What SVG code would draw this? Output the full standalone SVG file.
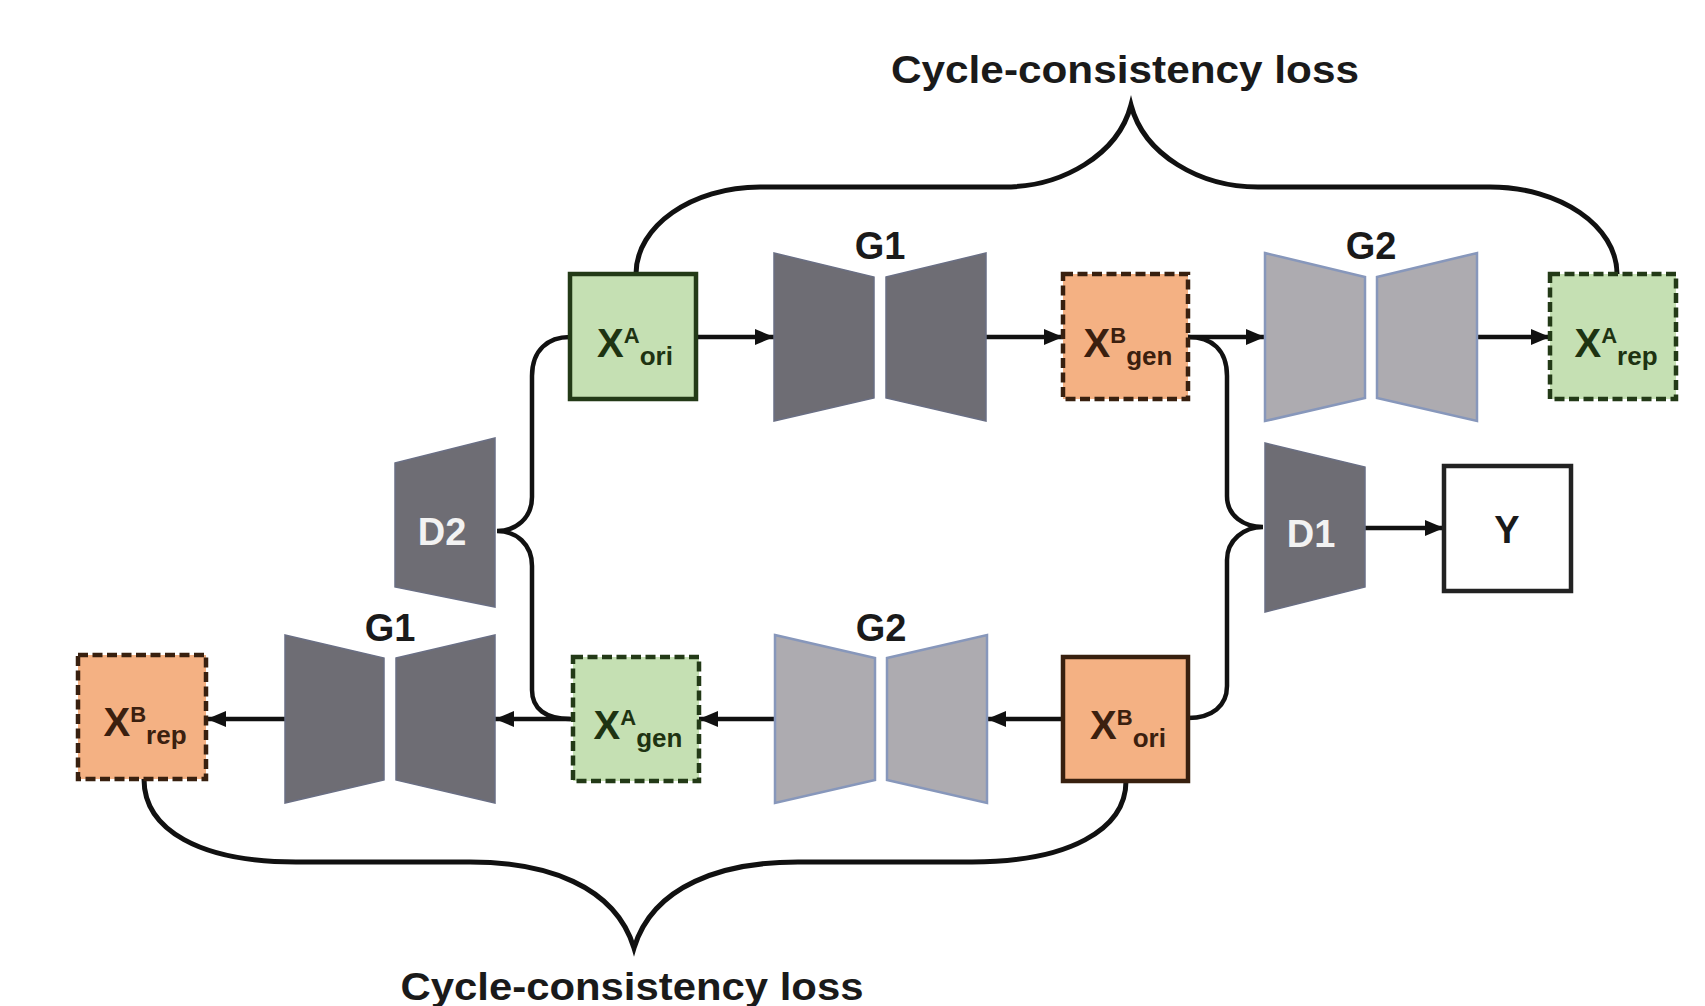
<svg xmlns="http://www.w3.org/2000/svg" width="1705" height="1006" viewBox="0 0 1705 1006">
<defs>
<marker id="arr" markerUnits="userSpaceOnUse" markerWidth="20" markerHeight="16" refX="19" refY="8" orient="auto">
<path d="M0,0 L19,8 L0,16 z" fill="#111"/>
</marker>
</defs>
<style>
.bg{fill:#ffffff}
.green{fill:#c5e0b3;stroke:#233a17;stroke-width:4.5}
.orange{fill:#f4b183;stroke:#38200f;stroke-width:4.5}
.dash{stroke-dasharray:10 4.5}
.white{fill:#ffffff;stroke:#222;stroke-width:4.5}
.dark{fill:#6e6d74;stroke:#6a6f84;stroke-width:1.5}
.light{fill:#adabb0;stroke:#8797bb;stroke-width:2.5}
.lbl{font-family:"Liberation Sans",Arial,sans-serif;font-weight:bold}
.big{font-size:38px;fill:#1a1a1a;text-anchor:middle}
.dtxt{font-size:38px;fill:#f2f2f2;text-anchor:middle}
.gt{fill:#1e3312}
.ot{fill:#3b200f}
.conn{fill:none;stroke:#111;stroke-width:4.5}
.brace{fill:none;stroke:#111;stroke-width:5}
</style>
<rect class="bg" x="0" y="0" width="1705" height="1006"/>

<g id="connectors">
<path class="conn" d="M696,337 L774,337" marker-end="url(#arr)"/>
<path class="conn" d="M986,337 L1063,337" marker-end="url(#arr)"/>
<path class="conn" d="M1188,337 L1265,337" marker-end="url(#arr)"/>
<path class="conn" d="M1477,337 L1550,337" marker-end="url(#arr)"/>
<path class="conn" d="M1063,719 L987,719" marker-end="url(#arr)"/>
<path class="conn" d="M775,719 L699,719" marker-end="url(#arr)"/>
<path class="conn" d="M573,719 L495,719" marker-end="url(#arr)"/>
<path class="conn" d="M285,719 L207,719" marker-end="url(#arr)"/>
<path class="conn" d="M1365,528 L1444,528" marker-end="url(#arr)"/>
<path class="conn" d="M1188,337 C1212,337 1227,350 1227,376 L1227,496 C1227,516 1244,527 1263,527 C1244,527 1227,540 1227,560 L1227,686 C1227,706 1212,718 1188,718"/>
<path class="conn" d="M570,337 C548,337 532,350 532,376 L532,497 C532,518 516,531 497,531 C516,531 532,544 532,566 L532,690 C532,709 546,719 570,719"/>
<path class="brace" d="M636,274 C636,226 692,187 760,187 L1004,187 C1062,187 1118,155 1131,105 C1144,155 1200,187 1258,187 L1490,187 C1560,187 1617,226 1617,274"/>
<path class="brace" d="M144,779 C144,830 200,862 296,862 L470,862 C545,862 615,885 634,948 C653,885 723,862 798,862 L972,862 C1068,862 1126,830 1126,781"/>
</g>

<g id="label-top">
<text class="lbl big" x="1125" y="83" textLength="468" lengthAdjust="spacingAndGlyphs">Cycle-consistency loss</text>
</g>
<g id="label-bottom">
<text class="lbl big" x="632" y="1000" textLength="463" lengthAdjust="spacingAndGlyphs">Cycle-consistency loss</text>
</g>

<g id="XA_ori">
<rect class="green" x="570" y="274" width="126" height="125"/>
<text class="lbl gt" x="635" y="357" text-anchor="middle"><tspan font-size="40">X</tspan><tspan font-size="22" dy="-14">A</tspan><tspan font-size="26" dy="22">ori</tspan></text>
</g>

<g id="G1_top">
<text class="lbl big" x="880" y="259">G1</text>
<polygon class="dark" points="774,253 874,277 874,398 774,421"/>
<polygon class="dark" points="886,277 986,253 986,421 886,398"/>
</g>

<g id="XB_gen">
<rect class="orange dash" x="1063" y="274" width="125" height="125"/>
<text class="lbl ot" x="1128" y="357" text-anchor="middle"><tspan font-size="40">X</tspan><tspan font-size="22" dy="-14">B</tspan><tspan font-size="26" dy="22">gen</tspan></text>
</g>

<g id="G2_top">
<text class="lbl big" x="1371" y="259">G2</text>
<polygon class="light" points="1265,253 1365,277 1365,398 1265,421"/>
<polygon class="light" points="1377,277 1477,253 1477,421 1377,398"/>
</g>

<g id="XA_rep">
<rect class="green dash" x="1550" y="274" width="126" height="125"/>
<text class="lbl gt" x="1616" y="357" text-anchor="middle"><tspan font-size="40">X</tspan><tspan font-size="22" dy="-14">A</tspan><tspan font-size="26" dy="22">rep</tspan></text>
</g>

<g id="D2">
<polygon class="dark" points="395,463 495,438 495,607 395,587"/>
<text class="lbl dtxt" x="442" y="545">D2</text>
</g>

<g id="D1">
<polygon class="dark" points="1265,443 1365,467 1365,587 1265,612"/>
<text class="lbl dtxt" x="1311" y="547">D1</text>
</g>

<g id="Y">
<rect class="white" x="1444" y="466" width="127" height="125"/>
<text class="lbl big" x="1507" y="543">Y</text>
</g>

<g id="XB_rep">
<rect class="orange dash" x="78" y="655" width="128" height="124"/>
<text class="lbl ot" x="145" y="736" text-anchor="middle"><tspan font-size="40">X</tspan><tspan font-size="22" dy="-14">B</tspan><tspan font-size="26" dy="22">rep</tspan></text>
</g>

<g id="G1_bottom">
<text class="lbl big" x="390" y="641">G1</text>
<polygon class="dark" points="285,635 384,658 384,780 285,803"/>
<polygon class="dark" points="396,658 495,635 495,803 396,780"/>
</g>

<g id="XA_gen">
<rect class="green dash" x="573" y="657" width="126" height="124"/>
<text class="lbl gt" x="638" y="739" text-anchor="middle"><tspan font-size="40">X</tspan><tspan font-size="22" dy="-14">A</tspan><tspan font-size="26" dy="22">gen</tspan></text>
</g>

<g id="G2_bottom">
<text class="lbl big" x="881" y="641">G2</text>
<polygon class="light" points="775,635 875,658 875,780 775,803"/>
<polygon class="light" points="887,658 987,635 987,803 887,780"/>
</g>

<g id="XB_ori">
<rect class="orange" x="1063" y="657" width="125" height="124"/>
<text class="lbl ot" x="1128" y="739" text-anchor="middle"><tspan font-size="40">X</tspan><tspan font-size="22" dy="-14">B</tspan><tspan font-size="26" dy="22">ori</tspan></text>
</g>
</svg>
